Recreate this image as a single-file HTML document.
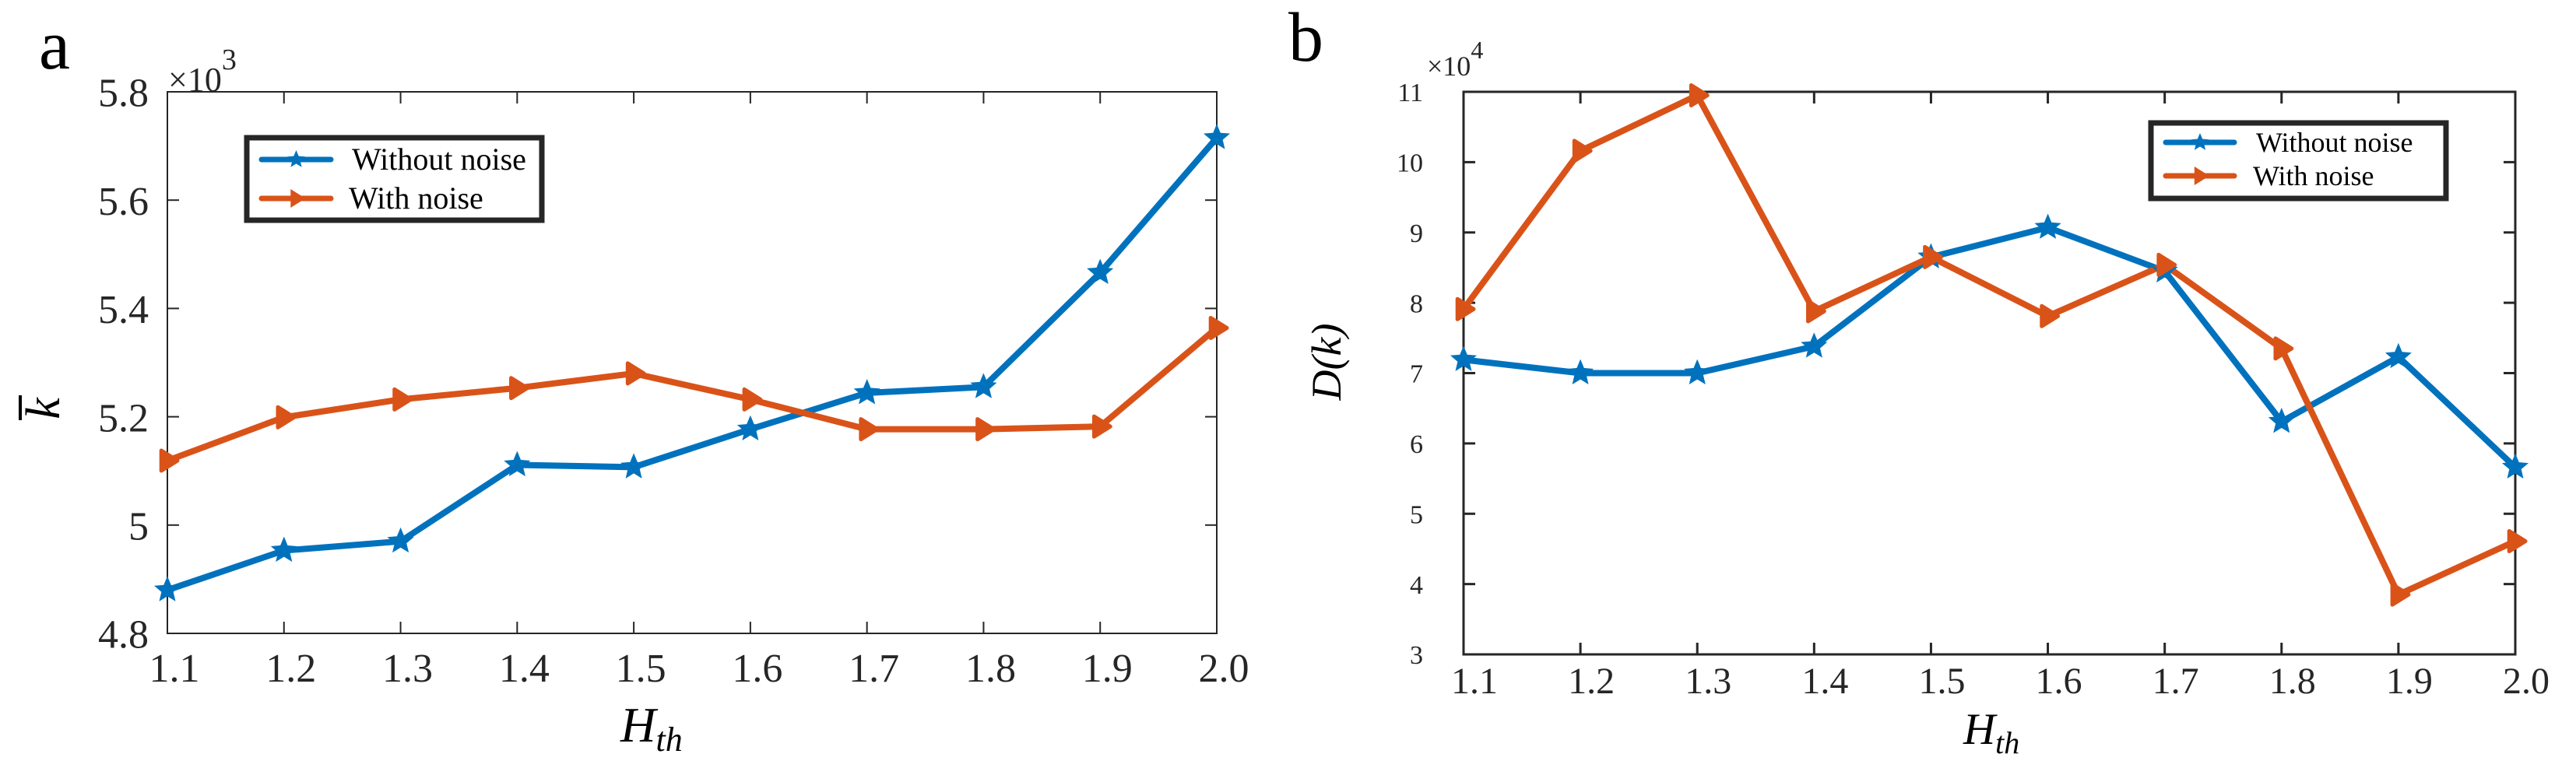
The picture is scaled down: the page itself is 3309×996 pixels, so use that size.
<!DOCTYPE html>
<html><head><meta charset="utf-8"><style>
html,body{margin:0;padding:0;background:#fff;}
svg{display:block;}
svg text{font-family:"Liberation Serif","DejaVu Serif",serif;}
</style></head>
<body>
<svg id="fig" width="3309" height="996" viewBox="0 0 3309 996" xmlns="http://www.w3.org/2000/svg" font-family="Liberation Serif, serif">
<g id="panelA"></g>
<g id="panelB"></g>
</svg>
<script>
const xCategories = [1.1,1.2,1.3,1.4,1.5,1.6,1.7,1.8,1.9,2.0];
const xTickLabels = ["1.1","1.2","1.3","1.4","1.5","1.6","1.7","1.8","1.9","2.0"];
const aWithout = [4.880,4.953,4.970,5.111,5.107,5.177,5.244,5.255,5.466,5.715];
const aWith = [5.119,5.199,5.232,5.253,5.280,5.232,5.177,5.177,5.182,5.364];
const aYTicks = [4.8,5.0,5.2,5.4,5.6,5.8];
const aYTickLabels = ["4.8","5","5.2","5.4","5.6","5.8"];
const bWithout = [7.19,7.00,7.00,7.38,8.65,9.07,8.45,6.31,7.23,5.66];
const bWith = [7.91,10.16,10.95,7.88,8.65,7.81,8.54,7.35,3.85,4.61];
const bYTicks = [3,4,5,6,7,8,9,10,11];
const bYTickLabels = ["3","4","5","6","7","8","9","10","11"];

const NS="http://www.w3.org/2000/svg";
const SERIF="Liberation Serif, DejaVu Serif, serif";
function mk(parent,tag,attrs,text){const e=document.createElementNS(NS,tag);if(tag==="text")e.setAttribute("font-family",SERIF);for(const k in attrs)e.setAttribute(k,attrs[k]);if(text!==undefined)e.textContent=text;parent.appendChild(e);return e;}
const BLUE="#0072BD", RED="#D95319";

function starPts(cx,cy,r){let p=[];for(let i=0;i<10;i++){const a=-Math.PI/2+i*Math.PI/5;const rr=i%2?r*0.45:r;p.push((cx+rr*Math.cos(a)).toFixed(1)+","+(cy+rr*Math.sin(a)).toFixed(1));}return p.join(" ");}
function triPts(cx,cy,r){return [(cx-r*0.6)+","+(cy-r),(cx+r)+","+cy,(cx-r*0.6)+","+(cy+r)].join(" ");}

function drawPanel(g,cfg){
  const {L,R,T,B,ymin,ymax,yTicks,yTickLabels,s1,s2,axW,yFont,xFont,xOff,xBase,yLabR}=cfg;
  const xs=v=>L+(v-xCategories[0])/(xCategories[xCategories.length-1]-xCategories[0])*(R-L);
  const ys=v=>B-(v-ymin)/(ymax-ymin)*(B-T);
  const frame=mk(g,"rect",{x:L,y:T,width:R-L,height:B-T,fill:"none",stroke:"#262626","stroke-width":axW});
  
  
  xCategories.forEach((c,i)=>{
    const x=xs(c);
    const t1=mk(g,"line",{x1:x,y1:B,x2:x,y2:B-15,stroke:"#262626","stroke-width":axW});
    
    
    const t2=mk(g,"line",{x1:x,y1:T,x2:x,y2:T+15,stroke:"#262626","stroke-width":axW});
    
    
    const tl=mk(g,"text",{x:x+xOff,y:xBase,"font-size":xFont,"text-anchor":"middle",fill:"#262626"},xTickLabels[i]);
    
    
  });
  yTicks.forEach((v,i)=>{
    const y=ys(v);
    const t1=mk(g,"line",{x1:L,y1:y,x2:L+15,y2:y,stroke:"#262626","stroke-width":axW});
    
    
    const t2=mk(g,"line",{x1:R,y1:y,x2:R-15,y2:y,stroke:"#262626","stroke-width":axW});
    
    
    const tl=mk(g,"text",{x:yLabR,y:y+yFont*0.36,"font-size":yFont,"text-anchor":"end",fill:"#262626"},yTickLabels[i]);
    
    
  });
  const l1=mk(g,"polyline",{points:s1.map((v,i)=>xs(xCategories[i])+","+ys(v)).join(" "),fill:"none",stroke:BLUE,"stroke-width":8,"stroke-linejoin":"round"});
  
  
  const l2=mk(g,"polyline",{points:s2.map((v,i)=>xs(xCategories[i])+","+ys(v)).join(" "),fill:"none",stroke:RED,"stroke-width":8,"stroke-linejoin":"round"});
  
  
  s1.forEach((v,i)=>{
    const m=mk(g,"polygon",{points:starPts(xs(xCategories[i]),ys(v),14),fill:BLUE,stroke:BLUE,"stroke-width":3});
    
    
  });
  s2.forEach((v,i)=>{
    const m=mk(g,"polygon",{points:triPts(xs(xCategories[i]),ys(v),13),fill:RED,stroke:RED,"stroke-width":5,"stroke-linejoin":"round"});
    
    
  });
}

function legend(g,x,y,w,h,fs,lx1,lx2,tx,r1,r2){
  const lg=mk(g,"g",{});
  
  
  mk(lg,"rect",{x:x,y:y,width:w,height:h,fill:"#fff",stroke:"#262626","stroke-width":7});
  const e1=mk(lg,"g",{});
  
  
  mk(e1,"line",{x1:lx1,y1:r1,x2:lx2,y2:r1,stroke:BLUE,"stroke-width":7,"stroke-linecap":"round"});
  mk(e1,"polygon",{points:starPts((lx1+lx2)/2,r1,12),fill:BLUE});
  mk(e1,"text",{x:tx,y:r1+fs*0.33,"font-size":fs,fill:"#000"},"Without noise");
  const e2=mk(lg,"g",{});
  
  
  mk(e2,"line",{x1:lx1,y1:r2,x2:lx2,y2:r2,stroke:RED,"stroke-width":7,"stroke-linecap":"round"});
  mk(e2,"polygon",{points:triPts((lx1+lx2)/2,r2,12),fill:RED});
  mk(e2,"text",{x:tx-4,y:r2+fs*0.33,"font-size":fs,fill:"#000"},"With noise");
}

const gA=document.getElementById("panelA");
drawPanel(gA,{L:215,R:1563,T:118,B:814,ymin:4.8,ymax:5.8,yTicks:aYTicks,yTickLabels:aYTickLabels,s1:aWithout,s2:aWith,axW:2,yFont:52,xFont:52,xOff:9,xBase:876,yLabR:191});
legend(gA,317,177,379,106,40,336,425,452,205,255);
const gB=document.getElementById("panelB");
drawPanel(gB,{L:1880,R:3231,T:118,B:841,ymin:3,ymax:11,yTicks:bYTicks,yTickLabels:bYTickLabels,s1:bWithout,s2:bWith,axW:3,yFont:34,xFont:48,xOff:14,xBase:891,yLabR:1828});
legend(gB,2763,158,379,97,36,2782,2870,2898,183,226);

function txt(parent,name,attrs,content){const t=mk(parent,"text",attrs);t.innerHTML=content;return t;}
const fig=document.getElementById("fig");
txt(fig,"panel-label-a",{x:50,y:88,"font-size":90,fill:"#000"},"a");
txt(fig,"panel-label-b",{x:1655,y:78,"font-size":90,fill:"#000"},"b");
txt(fig,"y-axis-exponent-a",{x:216,y:117,"font-size":44,fill:"#262626"},'×10<tspan dy="-28" font-size="38">3</tspan>');
txt(fig,"y-axis-exponent-b",{x:1833,y:97,"font-size":36,fill:"#262626","font-family":"Liberation Sans, sans-serif"},'×10<tspan dy="-22" font-size="32">4</tspan>');
txt(fig,"x-axis-title-a",{x:797,y:953,"font-size":63,"font-style":"italic",fill:"#000"},'H<tspan dy="12" font-size="44">th</tspan>');
txt(fig,"x-axis-title-b",{x:2522,y:956,"font-size":57,"font-style":"italic",fill:"#000"},'H<tspan dy="12" font-size="40">th</tspan>');
txt(fig,"y-axis-title-a",{x:0,y:0,"font-size":62,"font-style":"italic",fill:"#000","text-anchor":"middle",transform:"translate(76,525) rotate(-90)"},"k");
const ob=mk(fig,"line",{x1:26,y1:508,x2:26,y2:540,stroke:"#000","stroke-width":4});


txt(fig,"y-axis-title-b",{x:0,y:0,"font-size":54,"font-style":"italic",fill:"#000","text-anchor":"middle",transform:"translate(1722,465) rotate(-90)"},"D(k)");
</script>
</body></html>
